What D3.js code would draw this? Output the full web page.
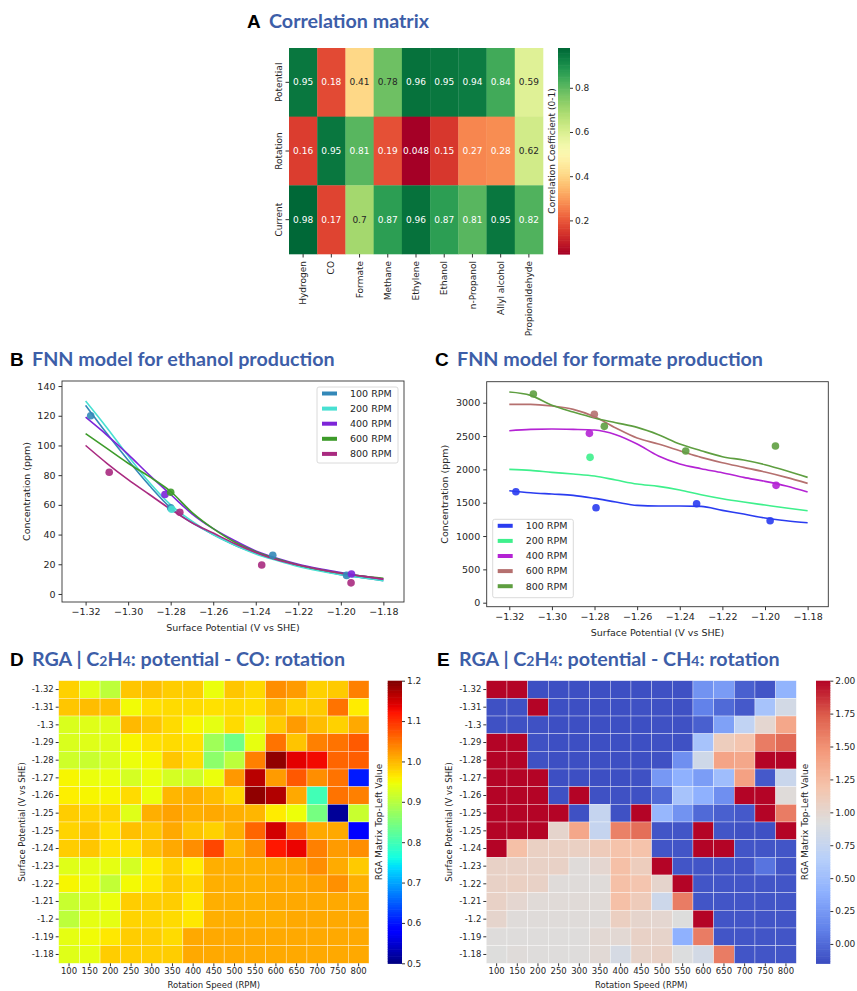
<!DOCTYPE html>
<html lang="en">
<head>
<meta charset="utf-8">
<title>Correlation matrix, FNN models and RGA maps</title>
<script src="https://cdn.jsdelivr.net/npm/d3@7"></script>
<style>
  body { margin: 0; background: #fff; }
  text { font-family: "DejaVu Sans", sans-serif; fill: #262626; }
  .title { font-family: Lato, "Open Sans", sans-serif; font-weight: 700; fill: #3d5ea8; font-size: 19.7px; }
  .letter { font-family: "Liberation Sans", Arial, sans-serif; font-weight: 700; fill: #000; font-size: 19px; }
</style>
</head>
<body>
<script>
// ---- panel A: correlation matrix ----
var products = ["Hydrogen", "CO", "Formate", "Methane", "Ethylene", "Ethanol", "n-Propanol", "Allyl alcohol", "Propionaldehyde"];
var factors = ["Potential", "Rotation", "Current"];
var corrPotential = [0.95, 0.18, 0.41, 0.78, 0.96, 0.95, 0.94, 0.84, 0.59];
var corrRotation  = [0.16, 0.95, 0.81, 0.19, 0.048, 0.15, 0.27, 0.28, 0.62];
var corrCurrent   = [0.98, 0.17, 0.7, 0.87, 0.96, 0.87, 0.81, 0.95, 0.82];
var corrTicks = [0.2, 0.4, 0.6, 0.8];

// ---- panels B and C: FNN model curves ----
var rpmLabels = ["100 RPM", "200 RPM", "400 RPM", "600 RPM", "800 RPM"];
var potentials = [-1.32, -1.31, -1.30, -1.29, -1.28, -1.27, -1.26, -1.25, -1.24, -1.23, -1.22, -1.21, -1.20, -1.19, -1.18];
var potentialTicks = [-1.32, -1.30, -1.28, -1.26, -1.24, -1.22, -1.20, -1.18];

var ethanol100 = [127, 108, 90, 73, 58, 48, 40, 33, 27.5, 23, 19, 16, 13, 11, 9];
var ethanol200 = [130, 112, 93, 75, 60, 49, 40, 33, 27, 22.5, 18.5, 15.5, 13, 11, 9];
var ethanol400 = [119, 107, 94, 80, 67, 54, 44, 36, 29, 24, 20, 17, 14.5, 12, 10];
var ethanol600 = [108, 98, 88, 79, 69, 55, 44, 35, 28.5, 23.5, 19.5, 16.5, 14, 12, 10.5];
var ethanol800 = [100, 88, 77, 67, 57, 48, 41, 34, 28, 23, 19.5, 16.5, 14, 12, 10];
var ethanolPts100 = [[-1.3176, 120], [-1.280, 58], [-1.232, 26], [-1.1973, 12.5]];
var ethanolPts200 = [[-1.2795, 57]];
var ethanolPts400 = [[-1.2827, 67], [-1.195, 13.5]];
var ethanolPts600 = [[-1.280, 68.5]];
var ethanolPts800 = [[-1.3089, 82], [-1.2757, 55], [-1.2372, 19.5], [-1.1952, 7.5]];
var ethanolTicks = [0, 20, 40, 60, 80, 100, 120, 140];

var formate100 = [1680, 1650, 1630, 1610, 1565, 1510, 1460, 1450, 1450, 1445, 1385, 1330, 1270, 1230, 1200];
var formate200 = [2000, 1985, 1955, 1930, 1900, 1840, 1780, 1745, 1690, 1620, 1560, 1510, 1465, 1420, 1380];
var formate400 = [2580, 2600, 2605, 2600, 2590, 2520, 2380, 2200, 2080, 2010, 1950, 1880, 1820, 1750, 1660];
var formate600 = [2975, 2975, 2950, 2900, 2790, 2620, 2470, 2380, 2280, 2180, 2100, 2030, 1960, 1880, 1790];
var formate800 = [3160, 3110, 2960, 2860, 2770, 2700, 2630, 2520, 2380, 2280, 2190, 2140, 2070, 1980, 1880];
var formatePts100 = [[-1.3169, 1665], [-1.2793, 1425], [-1.2321, 1485], [-1.1976, 1230]];
var formatePts200 = [[-1.2821, 2180]];
var formatePts400 = [[-1.2824, 2540], [-1.1948, 1760]];
var formatePts600 = [[-1.2801, 2825]];
var formatePts800 = [[-1.3087, 3130], [-1.2754, 2645], [-1.2372, 2275], [-1.1951, 2350]];
var formateTicks = [0, 500, 1000, 1500, 2000, 2500, 3000];

// ---- panels D and E: RGA maps ----
var rgaPotentials = ["-1.32", "-1.31", "-1.3", "-1.29", "-1.28", "-1.27", "-1.26", "-1.25", "-1.25", "-1.24", "-1.23", "-1.22", "-1.21", "-1.2", "-1.19", "-1.18"];
var rgaSpeeds = ["100", "150", "200", "250", "300", "350", "400", "450", "500", "550", "600", "650", "700", "750", "800"];
var rgaCO = [
  [0.982, 0.937, 0.906, 0.990, 0.995, 0.985, 0.985, 0.945, 0.990, 0.977, 1.032, 1.022, 0.982, 0.987, 1.042],
  [0.990, 0.997, 0.995, 0.950, 0.970, 0.975, 0.975, 0.970, 0.975, 0.972, 1.002, 0.982, 0.987, 1.052, 0.962],
  [0.930, 0.935, 0.935, 1.000, 0.990, 0.975, 0.955, 0.940, 0.975, 0.937, 0.987, 1.022, 0.997, 0.982, 1.012],
  [0.930, 0.935, 0.935, 0.955, 0.970, 0.975, 0.970, 0.880, 0.840, 0.942, 1.052, 0.992, 1.042, 1.052, 1.070],
  [0.920, 0.915, 0.930, 0.945, 0.955, 0.990, 0.975, 0.865, 0.905, 1.042, 1.190, 1.140, 1.130, 1.062, 1.067],
  [0.955, 0.945, 0.945, 0.925, 0.945, 0.925, 0.920, 0.945, 1.024, 1.165, 1.022, 1.072, 1.032, 1.052, 0.605],
  [0.960, 0.955, 0.955, 0.975, 0.945, 1.002, 1.007, 0.997, 0.977, 1.190, 1.170, 1.012, 0.800, 1.052, 1.042],
  [0.985, 0.980, 0.980, 0.935, 1.007, 1.017, 1.007, 1.012, 1.007, 1.002, 0.962, 0.947, 0.845, 0.515, 0.915],
  [0.980, 0.990, 0.970, 0.995, 0.990, 1.012, 0.992, 0.982, 1.007, 1.062, 1.150, 1.052, 1.012, 1.012, 0.585],
  [0.985, 0.990, 0.970, 0.970, 0.995, 1.012, 1.032, 1.085, 1.002, 1.032, 1.120, 1.135, 1.042, 1.022, 1.032],
  [0.935, 0.940, 0.940, 0.925, 0.960, 0.982, 0.962, 1.007, 1.007, 1.007, 1.012, 1.017, 1.032, 1.010, 0.987],
  [0.955, 0.945, 0.910, 0.952, 0.965, 0.987, 0.977, 1.007, 1.007, 1.007, 1.012, 1.012, 1.017, 1.030, 1.007],
  [0.915, 0.930, 0.945, 0.985, 0.985, 0.985, 0.965, 1.007, 1.007, 1.007, 1.012, 1.012, 1.012, 1.012, 1.012],
  [0.905, 0.940, 0.940, 0.980, 0.980, 0.975, 0.965, 1.007, 1.007, 1.007, 1.007, 1.012, 1.012, 1.012, 1.012],
  [0.940, 0.950, 0.965, 0.985, 0.985, 0.975, 1.012, 1.012, 1.012, 1.012, 1.012, 1.012, 1.012, 1.012, 1.012],
  [0.935, 0.940, 0.985, 0.985, 0.985, 0.985, 1.012, 1.012, 1.012, 1.012, 1.012, 1.012, 1.012, 1.012, 1.012]
];
var rgaCOTicks = [0.5, 0.6, 0.7, 0.8, 0.9, 1.0, 1.1, 1.2];
var rgaCH4 = [
  [2.1, 2.1, -0.13, -0.13, -0.13, -0.13, -0.13, -0.13, -0.12, -0.12, 0.22, 0.27, -0.05, -0.1, 0.42],
  [-0.12, -0.12, 2.1, -0.13, -0.13, -0.13, -0.13, -0.12, -0.12, -0.12, 0.12, 0.0, -0.08, 0.55, 0.85],
  [-0.12, -0.12, -0.12, -0.13, -0.13, -0.13, -0.13, -0.13, -0.12, -0.12, -0.05, 0.3, 0.72, 1.0, 1.38],
  [2.1, 2.1, -0.12, -0.13, -0.13, -0.13, -0.13, -0.13, -0.12, -0.12, 0.55, 1.1, 1.18, 1.6, 1.68],
  [2.1, 2.1, -0.12, -0.13, -0.13, -0.13, -0.13, -0.13, -0.12, 0.2, 0.82, 1.4, 1.38, 2.1, 2.1],
  [2.1, 2.1, 2.1, -0.13, -0.13, -0.13, -0.13, -0.12, 0.25, 0.4, 0.28, 0.5, 1.42, -0.08, 0.78],
  [2.1, 2.1, 2.1, -0.12, 2.1, -0.12, -0.12, -0.12, 0.0, 0.55, 0.4, 0.2, 2.1, 2.1, 0.95],
  [2.1, 2.1, 2.1, 2.1, -0.12, 0.75, -0.12, 2.1, 0.45, 0.22, 0.0, -0.05, -0.08, 2.1, 1.6],
  [2.1, 2.1, 2.1, 1.02, 1.38, 0.75, 1.58, 1.66, -0.1, -0.1, 2.1, -0.1, -0.12, -0.12, 2.1],
  [2.1, 1.22, 1.07, 1.07, 1.07, 1.12, 1.2, 1.2, -0.1, -0.1, 2.1, 2.1, -0.1, -0.1, -0.1],
  [1.05, 1.05, 1.05, 1.05, 0.95, 1.0, 1.22, 1.1, 2.1, -0.1, -0.1, -0.1, -0.1, 0.05, -0.1],
  [1.05, 1.07, 1.05, 0.95, 0.95, 0.95, 1.22, 1.18, 1.02, 2.1, -0.1, -0.1, -0.1, -0.1, -0.1],
  [1.05, 1.0, 0.96, 0.96, 0.96, 0.96, 1.22, 1.12, 0.8, 1.6, -0.1, -0.1, -0.1, -0.1, -0.1],
  [1.02, 0.95, 0.95, 0.95, 0.95, 0.95, 1.08, 1.02, 1.0, 0.93, 2.1, -0.1, -0.1, -0.1, -0.1],
  [0.94, 0.94, 0.94, 0.94, 0.94, 0.98, 0.98, 1.05, 1.03, 0.4, 1.6, -0.1, -0.1, -0.1, -0.1],
  [0.93, 0.95, 0.94, 0.94, 0.94, 0.97, 0.87, 1.03, 1.05, 0.92, 0.85, 1.6, -0.1, -0.1, -0.1]
];
var rgaCH4Ticks = [0, 0.25, 0.5, 0.75, 1.0, 1.25, 1.5, 1.75, 2.0];

var svg = d3.select("body").append("svg")
  .attr("width", 857)
  .attr("height", 991);

// matplotlib jet
function jet(t) {
  t = Math.max(0, Math.min(1, t));
  function seg(pts) {
    for (var i = 1; i < pts.length; i++) {
      if (t <= pts[i][0]) {
        var a = pts[i - 1], b = pts[i];
        return a[1] + (b[1] - a[1]) * (t - a[0]) / (b[0] - a[0]);
      }
    }
    return pts[pts.length - 1][1];
  }
  var r = seg([[0, 0], [0.35, 0], [0.66, 1], [0.89, 1], [1, 0.5]]);
  var g = seg([[0, 0], [0.125, 0], [0.375, 1], [0.64, 1], [0.91, 0], [1, 0]]);
  var b = seg([[0, 0.5], [0.11, 1], [0.34, 1], [0.65, 0], [1, 0]]);
  return d3.rgb(r * 255, g * 255, b * 255) + "";
}
var coolwarm = d3.scaleLinear()
  .domain([0, 0.125, 0.25, 0.375, 0.5, 0.625, 0.75, 0.875, 1])
  .range(["#3b4cc0", "#6282ea", "#8db0fe", "#b8d0f9", "#dddddd", "#f5c4ac", "#f49a7b", "#de604d", "#b40426"])
  .clamp(true);

function title(x, y, letter, build) {
  svg.append("text").attr("class", "letter").attr("x", x).attr("y", y).text(letter);
  var t = svg.append("text").attr("class", "title").attr("x", x + 22).attr("y", y);
  build(t);
}
function plain(s) { return function(t) { t.text(s); }; }
function chem(parts) {
  return function(t) {
    parts.forEach(function(p) {
      var sp = t.append("tspan").text(p[0]);
      if (p[1]) sp.style("font-size", "14px");
    });
  };
}

// colorbar helper
function colorbar(x0, x1, y0, y1, domain, colorFn, ticks, fmt, label, labelX) {
  var g = svg.append("g");
  var y = d3.scaleLinear().domain(domain).range([y1, y0]);
  var n = 120;
  d3.range(n).forEach(function(i) {
    var v0 = domain[0] + (domain[1] - domain[0]) * i / n;
    var v1 = domain[0] + (domain[1] - domain[0]) * (i + 1) / n;
    g.append("rect").attr("x", x0).attr("width", x1 - x0)
      .attr("y", y(v1)).attr("height", y(v0) - y(v1) + 0.6)
      .attr("fill", colorFn((v0 + v1) / 2));
  });
  var ax = g.append("g").attr("transform", "translate(" + x1 + ",0)")
    .call(d3.axisRight(y).tickValues(ticks).tickFormat(d3.format(fmt)).tickSize(3).tickPadding(2));
  ax.select(".domain").remove();
  ax.selectAll("line").attr("stroke", "#333");
  ax.selectAll("text").style("font-size", "9px").attr("fill", "#262626");
  g.append("text").attr("transform", "translate(" + labelX + "," + ((y0 + y1) / 2) + ") rotate(-90)")
    .attr("text-anchor", "middle").attr("dy", "0.35em").style("font-size", "9px").text(label);
}

// ================= A =================
title(247, 28, "A", plain("Correlation matrix"));
(function() {
  var x0 = 289, x1 = 543, y0 = 48, y1 = 254;
  var rows = [corrPotential, corrRotation, corrCurrent];
  var x = d3.scaleBand().domain(products).range([x0, x1]);
  var y = d3.scaleBand().domain(factors).range([y0, y1]);
  var cmin = 0.048, cmax = 0.98;
  var color = function(v) { return d3.interpolateRdYlGn((v - cmin) / (cmax - cmin)); };
  function lum(c) {
    var rgb = d3.rgb(c);
    var f = function(u) { u /= 255; return u <= 0.03928 ? u / 12.92 : Math.pow((u + 0.055) / 1.055, 2.4); };
    return 0.2126 * f(rgb.r) + 0.7152 * f(rgb.g) + 0.0722 * f(rgb.b);
  }
  var g = svg.append("g");
  rows.forEach(function(vals, r) {
    vals.forEach(function(v, c) {
      var col = color(v);
      g.append("rect").attr("x", x(products[c])).attr("y", y(factors[r]))
        .attr("width", x.bandwidth() + 0.3).attr("height", y.bandwidth() + 0.3).attr("fill", col);
      g.append("text").attr("x", x(products[c]) + x.bandwidth() / 2).attr("y", y(factors[r]) + y.bandwidth() / 2)
        .attr("text-anchor", "middle").attr("dy", "0.35em").style("font-size", "9px")
        .style("fill", lum(col) > 0.408 ? "#262626" : "#ffffff").text(v);
    });
  });
  var xa = svg.append("g").attr("transform", "translate(0," + y1 + ")")
    .call(d3.axisBottom(x).tickSize(3.5).tickPadding(2));
  xa.select(".domain").remove();
  xa.selectAll("line").attr("stroke", "#333");
  xa.selectAll("text").attr("transform", "rotate(-90)").attr("text-anchor", "end")
    .attr("x", -7).attr("y", 0).attr("dy", "0.35em").style("font-size", "9px").attr("fill", "#262626");
  var ya = svg.append("g").attr("transform", "translate(" + x0 + ",0)")
    .call(d3.axisLeft(y).tickSize(3.5).tickPadding(2));
  ya.select(".domain").remove();
  ya.selectAll("line").attr("stroke", "#333");
  ya.selectAll("text").attr("transform", "rotate(-90)").attr("text-anchor", "middle")
    .attr("x", 0).attr("y", -7).attr("dy", "0").style("font-size", "9px").attr("fill", "#262626");
  colorbar(558, 570, y0, y1, [cmin, cmax], color, corrTicks, ".1f", "Correlation Coefficient (0-1)", 552);
})();

// ================= B & C =================
function linePanel(opt) {
  var x = d3.scaleLinear().domain(opt.xDomain).range([opt.x0, opt.x1]);
  var y = d3.scaleLinear().domain(opt.yDomain).range([opt.y1, opt.y0]);
  var g = svg.append("g");
  var line = d3.line().x(function(d) { return x(d[0]); }).y(function(d) { return y(d[1]); })
    .curve(d3.curveMonotoneX);
  opt.series.forEach(function(s, i) {
    var pts = potentials.map(function(p, j) { return [p, s[j]]; });
    g.append("path").attr("d", line(pts)).attr("fill", "none")
      .attr("stroke", opt.colors[i]).attr("stroke-width", 1.6);
  });
  opt.points.forEach(function(ps, i) {
    ps.forEach(function(p) {
      g.append("circle").attr("cx", x(p[0])).attr("cy", y(p[1])).attr("r", 3.8)
        .attr("fill", opt.colors[i]).attr("fill-opacity", 0.9);
    });
  });
  g.append("rect").attr("x", opt.x0).attr("y", opt.y0).attr("width", opt.x1 - opt.x0).attr("height", opt.y1 - opt.y0)
    .attr("fill", "none").attr("stroke", "#333").attr("stroke-width", 0.9);
  var xa = g.append("g").attr("transform", "translate(0," + opt.y1 + ")")
    .call(d3.axisBottom(x).tickValues(potentialTicks).tickFormat(function(d) { return d3.format(".2f")(d).replace("-", "\u2212"); })
      .tickSize(3.5).tickPadding(3));
  xa.select(".domain").remove();
  var ya = g.append("g").attr("transform", "translate(" + opt.x0 + ",0)")
    .call(d3.axisLeft(y).tickValues(opt.yTicks).tickFormat(d3.format("d")).tickSize(3.5).tickPadding(3));
  ya.select(".domain").remove();
  [xa, ya].forEach(function(a) {
    a.selectAll("line").attr("stroke", "#333");
    a.selectAll("text").style("font-size", "9.5px").attr("fill", "#262626");
  });
  g.append("text").attr("x", (opt.x0 + opt.x1) / 2).attr("y", opt.y1 + 29)
    .attr("text-anchor", "middle").style("font-size", "9.5px").text("Surface Potential (V vs SHE)");
  g.append("text").attr("transform", "translate(" + opt.yLabelX + "," + ((opt.y0 + opt.y1) / 2) + ") rotate(-90)")
    .attr("text-anchor", "middle").attr("dy", "0.35em").style("font-size", "9.5px").text("Concentration (ppm)");
  // legend
  var L = opt.legend;
  g.append("rect").attr("x", L.x).attr("y", L.y).attr("width", L.w).attr("height", L.h).attr("rx", 2)
    .attr("fill", "#fff").attr("fill-opacity", 0.85).attr("stroke", "#d0d0d0").attr("stroke-width", 0.8);
  rpmLabels.forEach(function(lbl, i) {
    var yy = L.y + 6.5 + i * 15.1;
    g.append("line").attr("x1", L.x + 5).attr("x2", L.x + 20).attr("y1", yy).attr("y2", yy)
      .attr("stroke", opt.colors[i]).attr("stroke-width", 4);
    g.append("text").attr("x", L.x + 33).attr("y", yy).attr("dy", "0.35em").style("font-size", "9.5px").text(lbl);
  });
}

title(10, 366, "B", plain("FNN model for ethanol production"));
linePanel({
  x0: 62, x1: 404, y0: 381, y1: 602,
  xDomain: [-1.3311, -1.1703], yDomain: [-5.4, 143.4],
  series: [ethanol100, ethanol200, ethanol400, ethanol600, ethanol800],
  points: [ethanolPts100, ethanolPts200, ethanolPts400, ethanolPts600, ethanolPts800],
  colors: ["#3388b8", "#48e0d2", "#7d25d8", "#3d9b2a", "#a92a80"],
  yTicks: ethanolTicks, yLabelX: 27,
  legend: { x: 317, y: 387, w: 81, h: 76 }
});

title(435, 366, "C", plain("FNN model for formate production"));
linePanel({
  x0: 486.7, x1: 828.3, y0: 381.7, y1: 606.7,
  xDomain: [-1.3306, -1.1703], yDomain: [-60, 3315],
  series: [formate100, formate200, formate400, formate600, formate800],
  points: [formatePts100, formatePts200, formatePts400, formatePts600, formatePts800],
  colors: ["#2a3cf0", "#3ef08c", "#b423d4", "#b5706f", "#5e9e40"],
  yTicks: formateTicks, yLabelX: 445,
  legend: { x: 492.7, y: 519.3, w: 80.6, h: 78.4 }
});

// ================= D & E =================
function rgaPanel(opt) {
  var x = d3.scaleBand().domain(d3.range(rgaSpeeds.length)).range([opt.x0, opt.x1]);
  var y = d3.scaleBand().domain(d3.range(rgaPotentials.length)).range([opt.y0, opt.y1]);
  var g = svg.append("g");
  opt.matrix.forEach(function(row, r) {
    row.forEach(function(v, c) {
      g.append("rect").attr("x", x(c)).attr("y", y(r)).attr("width", x.bandwidth()).attr("height", y.bandwidth())
        .attr("fill", opt.color(v)).attr("stroke", "#ffffff").attr("stroke-opacity", 0.55).attr("stroke-width", 0.6);
    });
  });
  var xa = g.append("g").attr("transform", "translate(0," + opt.y1 + ")")
    .call(d3.axisBottom(x).tickFormat(function(i) { return rgaSpeeds[i]; }).tickSize(3).tickPadding(2));
  var ya = g.append("g").attr("transform", "translate(" + opt.x0 + ",0)")
    .call(d3.axisLeft(y).tickFormat(function(i) { return rgaPotentials[i]; }).tickSize(3).tickPadding(2));
  [xa, ya].forEach(function(a) {
    a.select(".domain").remove();
    a.selectAll("line").attr("stroke", "#333");
    a.selectAll("text").style("font-size", "8.5px").attr("fill", "#262626");
  });
  g.append("text").attr("x", (opt.x0 + opt.x1) / 2).attr("y", opt.y1 + 25)
    .attr("text-anchor", "middle").style("font-size", "8.5px").text("Rotation Speed (RPM)");
  g.append("text").attr("transform", "translate(" + opt.yLabelX + "," + ((opt.y0 + opt.y1) / 2) + ") rotate(-90)")
    .attr("text-anchor", "middle").attr("dy", "0.35em").style("font-size", "8.5px").text("Surface Potential (V vs SHE)");
  colorbar(opt.cb[0], opt.cb[1], opt.y0, opt.y1, opt.domain, opt.color, opt.ticks, opt.fmt,
    "RGA Matrix Top-Left Value", opt.cbLabelX);
}

title(10, 666, "D", chem([["RGA | C"], ["2", true], ["H"], ["4", true], [": potential - CO: rotation"]]));
rgaPanel({
  x0: 58.7, x1: 369, y0: 680.7, y1: 963.3,
  matrix: rgaCO, domain: [0.5, 1.2], ticks: rgaCOTicks, fmt: ".1f",
  color: function(v) { return jet((v - 0.5) / 0.7); },
  cb: [387.7, 402], cbLabelX: 379, yLabelX: 21.7
});

title(437, 666, "E", chem([["RGA | C"], ["2", true], ["H"], ["4", true], [": potential - CH"], ["4", true], [": rotation"]]));
rgaPanel({
  x0: 486.3, x1: 796.3, y0: 680.7, y1: 963.3,
  matrix: rgaCH4, domain: [-0.147, 2.0], ticks: rgaCH4Ticks, fmt: ".2f",
  color: function(v) { return coolwarm((v + 0.147) / 2.147); },
  cb: [816, 830.3], cbLabelX: 805, yLabelX: 449
});
</script>
</body>
</html>
